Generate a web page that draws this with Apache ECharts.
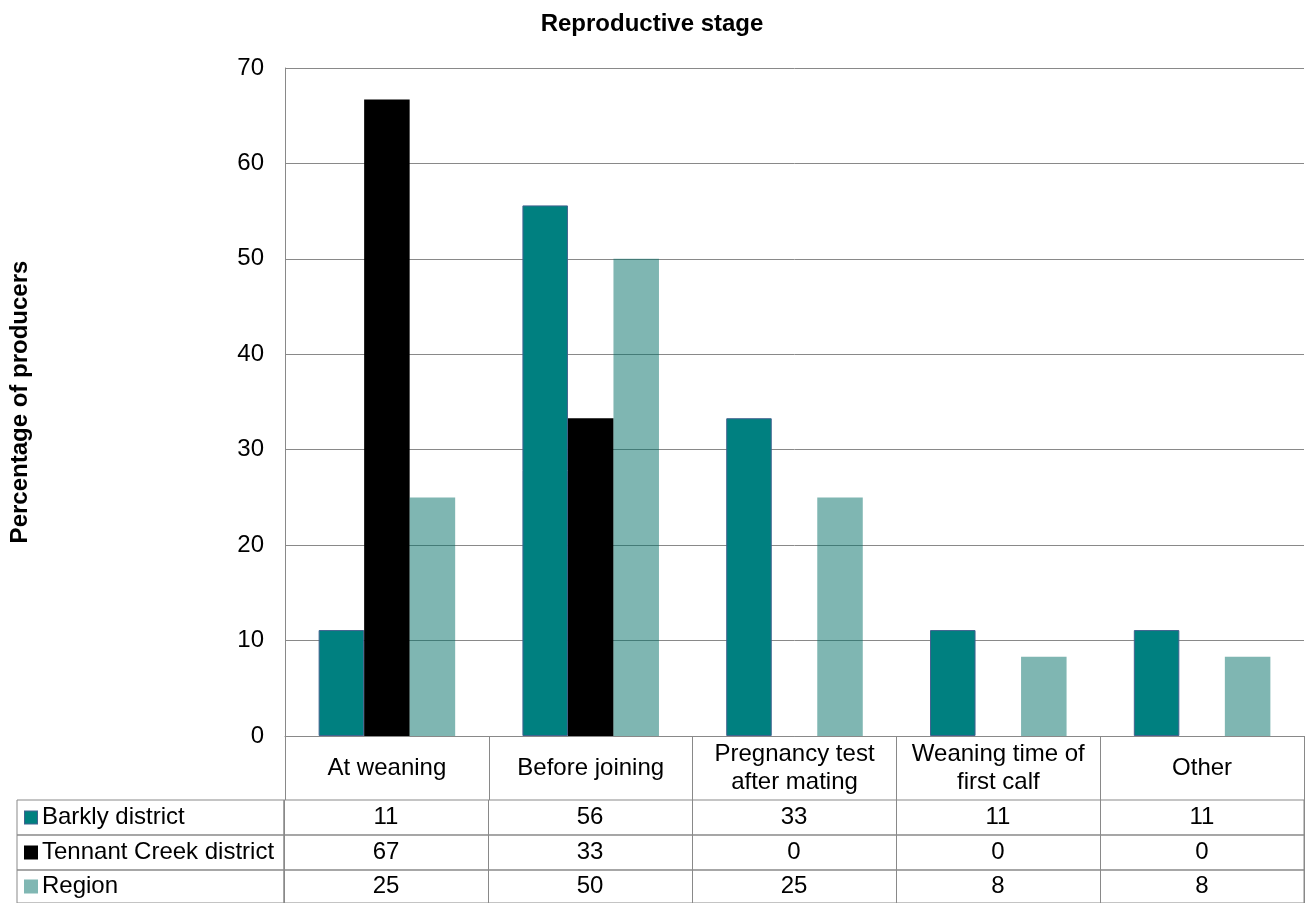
<!DOCTYPE html>
<html>
<head>
<meta charset="utf-8">
<style>
  html, body { margin: 0; padding: 0; background: #fff; }
  #chart { width: 1309px; height: 903px; }
</style>
<script src="https://cdn.jsdelivr.net/npm/echarts@6/dist/echarts.min.js"></script>
</head>
<body>
<div id="chart"></div>
<script>
// Reproductive stage at which producers act, by district (% of producers)
const categories = ['At weaning', 'Before joining', 'Pregnancy test\nafter mating', 'Weaning time of\nfirst calf', 'Other'];
const seriesNames = ['Barkly district', 'Tennant Creek district', 'Region'];
const barkly = [11.1, 55.6, 33.3, 11.1, 11.1];
const tennantCreek = [66.7, 33.3, 0, 0, 0];
const region = [25, 50, 25, 8.3, 8.3];
const yTicks = { min: 0, max: 70, interval: 10 };

const rows = [barkly, tennantCreek, region];
const colors = ['#008080', '#000000', 'rgba(0,110,102,0.5)'];
const swatchColors = ['#008080', '#000000', '#80b7b3'];
const swatchBorders = ['#41628f', '#000000', '#80b7b3'];
const lineGrey = '#898989';
const FONT = 'Liberation Sans, Arial, sans-serif';

// layout of the plot and the data table underneath it
const plotLeft = 284, plotRight = 5, plotTop = 68, axisY = 736;
const headerH = 64, rowH = 35, lastRowH = 34, labelColLeft = 17;

const grids = [{ left: plotLeft, right: plotRight, top: plotTop, height: axisY - plotTop }];
const xAxes = [{
  type: 'category', gridIndex: 0, data: categories,
  axisLine: { show: true, lineStyle: { color: lineGrey, width: 1 } },
  axisTick: { show: true, interval: 0, length: headerH, lineStyle: { color: lineGrey, width: 1 } },
  axisLabel: {
    interval: 0, margin: headerH / 2, verticalAlign: 'middle', align: 'center',
    fontFamily: FONT, fontSize: 24, lineHeight: 28, color: '#000'
  },
  splitLine: { show: false }
}];
const yAxes = [{
  type: 'value', gridIndex: 0, min: yTicks.min, max: yTicks.max, interval: yTicks.interval,
  name: 'Percentage of producers', nameLocation: 'middle', nameGap: 253, nameRotate: 90,
  nameTextStyle: { fontFamily: FONT, fontSize: 24, fontWeight: 'bold', color: '#000' },
  axisLine: { show: true, lineStyle: { color: lineGrey, width: 1 } },
  axisTick: { show: false },
  axisLabel: { margin: 21, fontFamily: FONT, fontSize: 24, color: '#000' },
  splitLine: { show: true, lineStyle: { color: lineGrey, width: 1 } }
}];

// table rows: value cells aligned with the category axis, plus a legend cell on the left
rows.forEach((vals, r) => {
  const top = axisY + headerH + r * rowH;
  const h = r === rows.length - 1 ? lastRowH : rowH;
  // value cells
  grids.push({ left: plotLeft, right: plotRight, top: top, height: h, show: true,
    borderColor: lineGrey, borderWidth: 1, backgroundColor: 'transparent' });
  const gi = grids.length - 1;
  xAxes.push({
    type: 'category', gridIndex: gi, data: categories, position: 'bottom',
    axisLine: { show: false }, axisTick: { show: false },
    axisLabel: {
      inside: true, interval: 0, margin: h / 2, verticalAlign: 'middle', align: 'center',
      fontFamily: FONT, fontSize: 24, color: '#000',
      formatter: (v, i) => String(Math.round(vals[i]))
    },
    splitLine: { show: true, interval: 0, lineStyle: { color: lineGrey, width: 1 } }
  });
  yAxes.push({ type: 'category', gridIndex: gi, data: [''], show: false });

  // legend cell with series swatch and name
  grids.push({ left: labelColLeft, width: plotLeft - labelColLeft, top: top, height: h, show: true,
    borderColor: lineGrey, borderWidth: 1, backgroundColor: 'transparent' });
  const gl = grids.length - 1;
  xAxes.push({ type: 'category', gridIndex: gl, data: [''], show: false });
  yAxes.push({
    type: 'category', gridIndex: gl, data: [seriesNames[r]],
    axisLine: { show: false }, axisTick: { show: false }, splitLine: { show: false },
    axisLabel: {
      inside: true, margin: 8, align: 'left', verticalAlign: 'middle',
      formatter: (v) => '{sq|}{t|' + v + '}',
      rich: {
        sq: { width: 12, height: 12, backgroundColor: swatchColors[r],
              borderColor: swatchBorders[r], borderWidth: 1 },
        t: { fontFamily: FONT, fontSize: 24, color: '#000', padding: [0, 0, 0, 5] }
      }
    }
  });
});

const series = rows.map((vals, r) => ({
  name: seriesNames[r], type: 'bar', xAxisIndex: 0, yAxisIndex: 0, data: vals,
  barGap: '0%', barCategoryGap: '33%',
  itemStyle: r === 0
    ? { color: colors[r], borderColor: '#41628f', borderWidth: 1 }
    : { color: colors[r] },
  emphasis: { disabled: true }
}));

const chart = echarts.init(document.getElementById('chart'), null, { renderer: 'canvas' });
chart.setOption({
  animation: false,
  backgroundColor: '#fff',
  title: {
    text: 'Reproductive stage', left: 652, top: 12, padding: 0, textAlign: 'center',
    textStyle: { fontFamily: FONT, fontSize: 24, fontWeight: 'bold', color: '#000' }
  },
  grid: grids,
  xAxis: xAxes,
  yAxis: yAxes,
  series: series
});
</script>
</body>
</html>
